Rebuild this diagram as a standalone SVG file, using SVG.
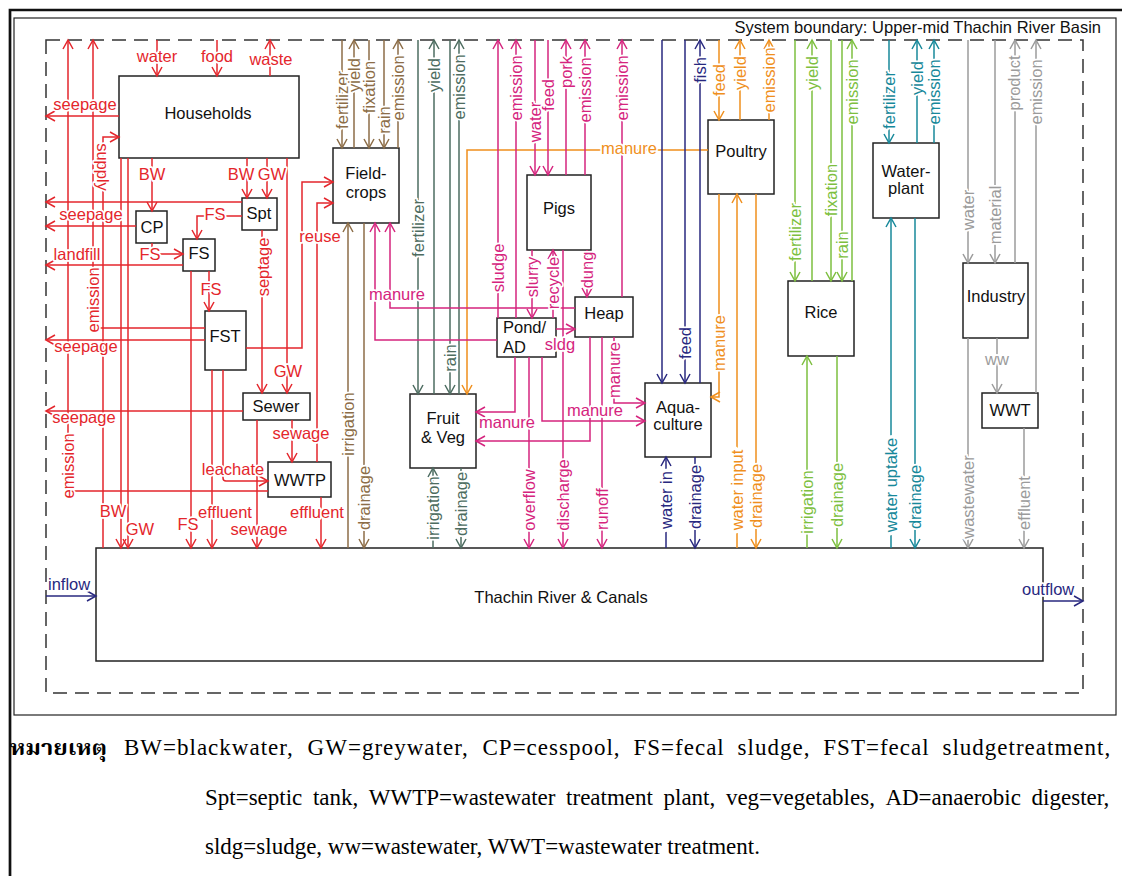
<svg xmlns="http://www.w3.org/2000/svg" width="1122" height="876" viewBox="0 0 1122 876">
<style>
text{font-family:"Liberation Sans",Arial,sans-serif;font-size:16.5px}
.box{fill:#fff;stroke:#222;stroke-width:1.5}
.n{fill:#111;text-anchor:middle}
.c{fill:none;stroke-width:1.5}
.l{paint-order:stroke;stroke:#fff;stroke-width:3.5px;stroke-linejoin:round}
.w{stroke-width:7px}
.m{text-anchor:middle}
.v{text-anchor:middle;dominant-baseline:central}
.r{stroke:#e4262c;marker-end:url(#ar)} .fr{fill:#e4262c}
.b{stroke:#8c6d47;marker-end:url(#ab)} .fb{fill:#8c6d47}
.g{stroke:#4d6c60;marker-end:url(#ag)} .fg{fill:#4d6c60}
.p{stroke:#d5247e;marker-end:url(#am)} .fp{fill:#d5247e}
.o{stroke:#ef8f1d;marker-end:url(#ao)} .fo{fill:#ef8f1d}
.nv{stroke:#28287f;marker-end:url(#an)} .fn{fill:#28287f}
.li{stroke:#7dbf3f;marker-end:url(#al)} .fl{fill:#7dbf3f}
.t{stroke:#17889a;marker-end:url(#at)} .ft{fill:#17889a}
.y{stroke:#9b9b9b;marker-end:url(#ay)} .fy{fill:#9b9b9b}
.lg{font-family:"Liberation Serif","Times New Roman",serif;font-size:23px;fill:#000}
.ls{letter-spacing:1px}
.th{font-family:"Noto Serif Thai","Noto Sans Thai","Loma","Garuda","DejaVu Sans",sans-serif;font-size:22px;font-weight:bold;fill:#000}
</style>
<defs>
<marker id="ar" viewBox="0 0 12 12" refX="10" refY="6" markerWidth="12" markerHeight="12" markerUnits="userSpaceOnUse" orient="auto"><path d="M1,1L10,6L1,11" fill="none" stroke="#e4262c" stroke-width="1.5"/></marker>
<marker id="ab" viewBox="0 0 12 12" refX="10" refY="6" markerWidth="12" markerHeight="12" markerUnits="userSpaceOnUse" orient="auto"><path d="M1,1L10,6L1,11" fill="none" stroke="#8c6d47" stroke-width="1.5"/></marker>
<marker id="ag" viewBox="0 0 12 12" refX="10" refY="6" markerWidth="12" markerHeight="12" markerUnits="userSpaceOnUse" orient="auto"><path d="M1,1L10,6L1,11" fill="none" stroke="#4d6c60" stroke-width="1.5"/></marker>
<marker id="am" viewBox="0 0 12 12" refX="10" refY="6" markerWidth="12" markerHeight="12" markerUnits="userSpaceOnUse" orient="auto"><path d="M1,1L10,6L1,11" fill="none" stroke="#d5247e" stroke-width="1.5"/></marker>
<marker id="ao" viewBox="0 0 12 12" refX="10" refY="6" markerWidth="12" markerHeight="12" markerUnits="userSpaceOnUse" orient="auto"><path d="M1,1L10,6L1,11" fill="none" stroke="#ef8f1d" stroke-width="1.5"/></marker>
<marker id="an" viewBox="0 0 12 12" refX="10" refY="6" markerWidth="12" markerHeight="12" markerUnits="userSpaceOnUse" orient="auto"><path d="M1,1L10,6L1,11" fill="none" stroke="#28287f" stroke-width="1.5"/></marker>
<marker id="al" viewBox="0 0 12 12" refX="10" refY="6" markerWidth="12" markerHeight="12" markerUnits="userSpaceOnUse" orient="auto"><path d="M1,1L10,6L1,11" fill="none" stroke="#7dbf3f" stroke-width="1.5"/></marker>
<marker id="at" viewBox="0 0 12 12" refX="10" refY="6" markerWidth="12" markerHeight="12" markerUnits="userSpaceOnUse" orient="auto"><path d="M1,1L10,6L1,11" fill="none" stroke="#17889a" stroke-width="1.5"/></marker>
<marker id="ay" viewBox="0 0 12 12" refX="10" refY="6" markerWidth="12" markerHeight="12" markerUnits="userSpaceOnUse" orient="auto"><path d="M1,1L10,6L1,11" fill="none" stroke="#9b9b9b" stroke-width="1.5"/></marker>
</defs>
<rect width="1122" height="876" fill="#fff"/>
<g id="frame">
<path d="M10,876V10H1122" fill="none" stroke="#111" stroke-width="2.7"/>
<rect x="14" y="18" width="1102" height="697" fill="none" stroke="#222" stroke-width="1.2"/>
<rect x="46" y="40" width="1037" height="653" fill="none" stroke="#333" stroke-width="1.5" stroke-dasharray="14 8"/>
<text x="1101" y="33" text-anchor="end" fill="#111">System boundary: Upper-mid Thachin River Basin</text>
</g>
<g id="households"><rect class="box" x="119" y="76" width="180" height="82"/><text class="n" x="208" y="119">Households</text></g>
<g id="cp"><rect class="box" x="136" y="211" width="31" height="32"/><text class="n" x="152" y="233">CP</text></g>
<g id="spt"><rect class="box" x="242" y="198" width="35" height="32"/><text class="n" x="259" y="219">Spt</text></g>
<g id="fs"><rect class="box" x="183" y="239" width="32" height="32"/><text class="n" x="199" y="259">FS</text></g>
<g id="fst"><rect class="box" x="205" y="311" width="41" height="59"/><text class="n" x="225" y="342">FST</text></g>
<g id="sewer"><rect class="box" x="243" y="393" width="67" height="27"/><text class="n" x="276" y="412">Sewer</text></g>
<g id="wwtp"><rect class="box" x="268" y="462" width="63" height="35"/><text class="n" x="300" y="486">WWTP</text></g>
<g id="fieldcrops"><rect class="box" x="333" y="148" width="66" height="75"/><text class="n" x="366" y="179">Field-</text><text class="n" x="366" y="198">crops</text></g>
<g id="fruitveg"><rect class="box" x="410" y="394" width="66" height="74"/><text class="n" x="443" y="424">Fruit</text><text class="n" x="443" y="443">&amp; Veg</text></g>
<g id="pigs"><rect class="box" x="527" y="175" width="64" height="75"/><text class="n" x="559" y="214">Pigs</text></g>
<g id="pondad"><rect class="box" x="497" y="318" width="59" height="39"/><text x="503" y="333" fill="#111">Pond/</text><text x="503" y="353" fill="#111">AD</text></g>
<g id="heap"><rect class="box" x="575" y="297" width="58" height="40"/><text class="n" x="604" y="319">Heap</text></g>
<g id="aquaculture"><rect class="box" x="645" y="383" width="66" height="74"/><text class="n" x="678" y="413">Aqua-</text><text class="n" x="678" y="430">culture</text></g>
<g id="poultry"><rect class="box" x="708" y="120" width="66" height="74"/><text class="n" x="741" y="157">Poultry</text></g>
<g id="rice"><rect class="box" x="788" y="281" width="66" height="75"/><text class="n" x="821" y="318">Rice</text></g>
<g id="waterplant"><rect class="box" x="873" y="143" width="66" height="75"/><text class="n" x="906" y="177">Water-</text><text class="n" x="906" y="194">plant</text></g>
<g id="industry"><rect class="box" x="963" y="263" width="65" height="75"/><text class="n" x="996" y="302">Industry</text></g>
<g id="wwt"><rect class="box" x="982" y="393" width="56" height="35"/><text class="n" x="1010" y="416">WWT</text></g>
<g id="river"><rect class="box" x="96" y="548" width="947" height="113"/><text class="n" x="561" y="603">Thachin River &amp; Canals</text></g>
<g id="connectors">
<g id="lines">
<path class="c r" d="M157,40V76"/>
<path class="c r" d="M217,40V76"/>
<path class="c r" d="M270,76V40"/>
<path class="c r" d="M119,116H46"/>
<path class="c r" d="M103,548V137H119"/>
<path class="c r" d="M268,491H68V40"/>
<path class="c r" d="M205,328H93V40"/>
<path class="c r" d="M152,158V211"/>
<path class="c r" d="M247,158V198"/>
<path class="c r" d="M267,158V198"/>
<path class="c r" d="M242,202H46"/>
<path class="c r" d="M136,226H46"/>
<path class="c r" d="M242,216H197V239"/>
<path class="c r" d="M152,243V254H183"/>
<path class="c r" d="M183,265H46"/>
<path class="c r" d="M209,271V311"/>
<path class="c r" d="M205,340H46"/>
<path class="c r" d="M243,411H46"/>
<path class="c r" d="M246,348H302V182H333"/>
<path class="c r" d="M317,462V203H333"/>
<path class="c r" d="M262,230V393"/>
<path class="c r" d="M287,158V393"/>
<path class="c r" d="M292,420V462"/>
<path class="c r" d="M257,420V548"/>
<path class="c r" d="M223,370V478Q223,481 226,481H268"/>
<path class="c r" d="M191,271V548"/>
<path class="c r" d="M212,370V548"/>
<path class="c r" d="M321,497V548"/>
<path class="c r" d="M121,158V548"/>
<path class="c r" d="M128,158V548"/>
<path class="c b" d="M342,40V148"/>
<path class="c b" d="M354,148V40"/>
<path class="c b" d="M369,40V148"/>
<path class="c b" d="M384,40V148"/>
<path class="c b" d="M398,148V40"/>
<path class="c b" d="M348,548V223"/>
<path class="c b" d="M364,223V548"/>
<path class="c g" d="M418,40V394"/>
<path class="c g" d="M434,394V40"/>
<path class="c g" d="M450,40V394"/>
<path class="c g" d="M459,394V40"/>
<path class="c g" d="M433,548V468"/>
<path class="c g" d="M461,468V548"/>
<path class="c o" d="M708,150H467V394"/>
<path class="c o" d="M719,40V120"/>
<path class="c o" d="M740,120V40"/>
<path class="c o" d="M769,120V40"/>
<path class="c o" d="M719,194V397H711"/>
<path class="c o" d="M737,548V194"/>
<path class="c o" d="M756,194V548"/>
<path class="c p" d="M498,318V40"/>
<path class="c p" d="M516,318V40"/>
<path class="c p" d="M535,40V175"/>
<path class="c p" d="M548,40V175"/>
<path class="c p" d="M566,175V40"/>
<path class="c p" d="M585,175V40"/>
<path class="c p" d="M622,297V40"/>
<path class="c p" d="M532,250V318"/>
<path class="c p" d="M553,318V250"/>
<path class="c p" d="M587,250V297"/>
<path class="c p" d="M563,250V548"/>
<path class="c p" d="M575,308H390V223"/>
<path class="c p" d="M497,340H375V223"/>
<path class="c p" d="M556,329H575"/>
<path class="c p" d="M515,357V412H476"/>
<path class="c p" d="M529,357V548"/>
<path class="c p" d="M542,357V421H645"/>
<path class="c p" d="M614,337V403H645"/>
<path class="c p" d="M590,337V441H476"/>
<path class="c p" d="M602,337V548"/>
<path class="c nv" d="M662,40V383"/>
<path class="c nv" d="M685,40V383"/>
<path class="c nv" d="M700,383V40"/>
<path class="c nv" d="M666,548V457"/>
<path class="c nv" d="M695,457V548"/>
<path class="c nv" d="M46,596H96"/>
<path class="c nv" d="M1043,601H1083"/>
<path class="c li" d="M795,40V281"/>
<path class="c li" d="M812,281V40"/>
<path class="c li" d="M831,40V281"/>
<path class="c li" d="M842,40V281"/>
<path class="c li" d="M852,281V40"/>
<path class="c li" d="M807,548V356"/>
<path class="c li" d="M837,356V548"/>
<path class="c t" d="M889,40V143"/>
<path class="c t" d="M917,143V40"/>
<path class="c t" d="M934,143V40"/>
<path class="c t" d="M891,548V218"/>
<path class="c t" d="M915,218V548"/>
<path class="c y" d="M968,40V263"/>
<path class="c y" d="M995,40V263"/>
<path class="c y" d="M1015,263V40"/>
<path class="c y" d="M1036,393V40"/>
<path class="c y" d="M997,338V393"/>
<path class="c y" d="M968,338V548"/>
<path class="c y" d="M1024,428V548"/>
</g>
<g id="labels">
<g class="fr">
<text class="l m" x="157" y="62">water</text>
<text class="l m" x="217" y="62">food</text>
<text class="l m" x="271" y="65">waste</text>
<text class="l m" x="85" y="110">seepage</text>
<text class="l m" x="91" y="220">seepage</text>
<text class="l m" x="77" y="260">landfill</text>
<text class="l m" x="86" y="352">seepage</text>
<text class="l m" x="84" y="423">seepage</text>
<text class="l m" x="152" y="180">BW</text>
<text class="l m" x="241" y="180">BW</text>
<text class="l m" x="272" y="180">GW</text>
<text class="l m" x="215" y="220">FS</text>
<text class="l m" x="150" y="260">FS</text>
<text class="l m" x="211" y="295">FS</text>
<text class="l m" x="320" y="242">reuse</text>
<text class="l m" x="288" y="377">GW</text>
<text class="l m" x="301" y="439">sewage</text>
<text class="l m" x="233" y="475">leachate</text>
<text class="l m" x="225" y="518">effluent</text>
<text class="l m" x="317" y="518">effluent</text>
<text class="l m" x="188" y="530">FS</text>
<text class="l m" x="259" y="535">sewage</text>
<text class="l m" x="113" y="517">BW</text>
<text class="l m" x="140" y="535">GW</text>
<text class="l v" transform="translate(103,167) rotate(90)">supply</text>
<text class="l v" transform="translate(68,466) rotate(-90)">emission</text>
<text class="l v" transform="translate(93,300) rotate(-90)">emission</text>
<text class="l v" transform="translate(263,267) rotate(-90)">septage</text>
</g>
<g class="fb">
<text class="l v" transform="translate(342,100) rotate(-90)">fertilizer</text>
<text class="l v" transform="translate(354,75) rotate(-90)">yield</text>
<text class="l v" transform="translate(369,87) rotate(-90)">fixation</text>
<text class="l v" transform="translate(384,120) rotate(-90)">rain</text>
<text class="l v" transform="translate(398,88) rotate(-90)">emission</text>
<text class="l v" transform="translate(348,424) rotate(-90)">irrigation</text>
<text class="l v" transform="translate(364,498) rotate(-90)">drainage</text>
</g>
<g class="fg">
<text class="l v" transform="translate(434,75) rotate(-90)">yield</text>
<text class="l v" transform="translate(459,87) rotate(-90)">emission</text>
<text class="l v" transform="translate(418,228) rotate(-90)">fertilizer</text>
<text class="l v" transform="translate(450,358) rotate(-90)">rain</text>
<text class="l v" transform="translate(433,508) rotate(-90)">irrigation</text>
<text class="l v" transform="translate(461,504) rotate(-90)">drainage</text>
</g>
<g class="fp">
<text class="l v" transform="translate(516,88) rotate(-90)">emission</text>
<text class="l v" transform="translate(535,122) rotate(-90)">water</text>
<text class="l v" transform="translate(548,95) rotate(-90)">feed</text>
<text class="l v" transform="translate(566,72) rotate(-90)">pork</text>
<text class="l v" transform="translate(585,90) rotate(-90)">emission</text>
<text class="l v" transform="translate(622,88) rotate(-90)">emission</text>
<text class="l v" transform="translate(498,268) rotate(-90)">sludge</text>
<text class="l v" transform="translate(532,277) rotate(-90)">slurry</text>
<text class="l v" transform="translate(553,283) rotate(-90)">recycle</text>
<text class="l v" transform="translate(587,270) rotate(-90)">dung</text>
<text class="l v" transform="translate(529,500) rotate(-90)">overflow</text>
<text class="l v" transform="translate(563,495) rotate(-90)">discharge</text>
<text class="l v" transform="translate(602,509) rotate(-90)">runoff</text>
<text class="l v" transform="translate(614,370) rotate(-90)">manure</text>
<text class="l m" x="397" y="300">manure</text>
<text class="l m" x="560" y="350">sldg</text>
<text class="l m" x="507" y="428">manure</text>
<text class="l m" x="595" y="416">manure</text>
</g>
<g class="fo">
<text class="l m" x="629" y="154">manure</text>
<text class="l v" transform="translate(719,80) rotate(-90)">feed</text>
<text class="l v" transform="translate(740,73) rotate(-90)">yield</text>
<text class="l v" transform="translate(769,80) rotate(-90)">emission</text>
<text class="l v" transform="translate(719,343) rotate(-90)">manure</text>
<text class="l w v" transform="translate(737,490) rotate(-90)">water input</text>
<text class="l v" transform="translate(756,496) rotate(-90)">drainage</text>
</g>
<g class="fn">
<text class="l v" transform="translate(700,70) rotate(-90)">fish</text>
<text class="l v" transform="translate(685,343) rotate(-90)">feed</text>
<text class="l w v" transform="translate(666,500) rotate(-90)">water in</text>
<text class="l v" transform="translate(695,497) rotate(-90)">drainage</text>
<text class="l" x="48" y="590">inflow</text>
<text class="l" x="1022" y="595">outflow</text>
</g>
<g class="fl">
<text class="l v" transform="translate(812,73) rotate(-90)">yield</text>
<text class="l v" transform="translate(852,92) rotate(-90)">emission</text>
<text class="l v" transform="translate(831,190) rotate(-90)">fixation</text>
<text class="l v" transform="translate(795,232) rotate(-90)">fertilizer</text>
<text class="l v" transform="translate(842,245) rotate(-90)">rain</text>
<text class="l v" transform="translate(807,502) rotate(-90)">irrigation</text>
<text class="l v" transform="translate(837,495) rotate(-90)">drainage</text>
</g>
<g class="ft">
<text class="l v" transform="translate(889,100) rotate(-90)">fertilizer</text>
<text class="l v" transform="translate(917,78) rotate(-90)">yield</text>
<text class="l v" transform="translate(934,92) rotate(-90)">emission</text>
<text class="l w v" transform="translate(891,485) rotate(-90)">water uptake</text>
<text class="l v" transform="translate(915,497) rotate(-90)">drainage</text>
</g>
<g class="fy">
<text class="l v" transform="translate(1014,83) rotate(-90)">product</text>
<text class="l v" transform="translate(1036,92) rotate(-90)">emission</text>
<text class="l v" transform="translate(968,210) rotate(-90)">water</text>
<text class="l v" transform="translate(995,215) rotate(-90)">material</text>
<text class="l v" transform="translate(968,497) rotate(-90)">wastewater</text>
<text class="l v" transform="translate(1024,503) rotate(-90)">effluent</text>
<text class="l m" x="997" y="365">ww</text>
</g>
</g>
</g>
<g id="legend">
<text class="th" x="10" y="755" textLength="97" lengthAdjust="spacingAndGlyphs">หมายเหตุ</text>
<text class="lg ls" y="755"><tspan x="124">BW=blackwater,</tspan><tspan x="307.6">GW=greywater,</tspan><tspan x="482.5">CP=cesspool,</tspan><tspan x="633.5">FS=fecal</tspan><tspan x="737.6">sludge,</tspan><tspan x="823.3">FST=fecal</tspan><tspan x="942.5">sludgetreatment,</tspan></text>
<text class="lg" y="805"><tspan x="205">Spt=septic</tspan><tspan x="312.9">tank,</tspan><tspan x="368.8">WWTP=wastewater</tspan><tspan x="566.1">treatment</tspan><tspan x="663.5">plant,</tspan><tspan x="725.9">veg=vegetables,</tspan><tspan x="885.4">AD=anaerobic</tspan><tspan x="1031.6">digester,</tspan></text>
<text class="lg" x="205" y="854">sldg=sludge, ww=wastewater, WWT=wastewater treatment.</text>
</g>
</svg>
